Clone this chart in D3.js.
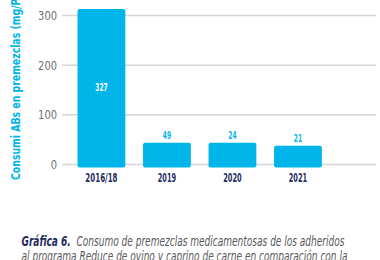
<!DOCTYPE html>
<html>
<head>
<meta charset="utf-8">
<script src="https://cdn.jsdelivr.net/npm/d3@7"></script>
<style>
  body { margin: 0; background: #fff; }
  svg { display: block; }
  text { font-family: "Liberation Sans Narrow", "DejaVu Sans Condensed", "DejaVu Sans", sans-serif; }
</style>
</head>
<body>
<div id="chart"></div>
<script>
// categories and values (bar heights as drawn, labels as printed)
const years = ["2016/18", "2019", "2020", "2021"];
const barValues = [313, 44, 44, 38];
const valueLabels = ["327", "49", "24", "21"];
const yTicks = [0, 100, 200, 300];

const width = 380, height = 260;
const cyan = "#00b5e9";
const navy = "#1d2c5e";

const svg = d3.select("#chart").append("svg")
    .attr("width", width)
    .attr("height", height);

// scales
const x = d3.scaleBand()
    .domain(years)
    .range([68.7, 330.7])
    .paddingInner(0.27)
    .paddingOuter(0.135);

const y = d3.scaleLinear()
    .domain([0, 300])
    .range([164.5, 15.5]);

// gridlines
svg.append("g")
    .selectAll("line")
    .data(yTicks)
    .enter().append("line")
    .attr("x1", 62)
    .attr("x2", 376)
    .attr("y1", d => y(d))
    .attr("y2", d => y(d))
    .style("stroke", "#d6d6d6")
    .style("stroke-width", 1.5);

// y tick labels
svg.append("g")
    .selectAll("text")
    .data(yTicks)
    .enter().append("text")
    .attr("x", 57)
    .attr("y", d => y(d))
    .attr("dy", "0.35em")
    .attr("text-anchor", "end")
    .attr("textLength", d => String(d).length * 6.3)
    .attr("lengthAdjust", "spacingAndGlyphs")
    .style("font-size", "13px")
    .style("fill", "#6d6e71")
    .text(d => d);

// bars (they sit a little below the zero line)
svg.append("g")
    .selectAll("rect")
    .data(barValues)
    .enter().append("rect")
    .attr("x", (d, i) => x(years[i]))
    .attr("y", d => y(d))
    .attr("width", x.bandwidth())
    .attr("height", d => y(0) - y(d) + 3)
    .attr("rx", 2)
    .style("fill", cyan);

// value labels: first one inside the bar, the rest above
svg.append("g")
    .selectAll("text")
    .data(valueLabels)
    .enter().append("text")
    .attr("x", (d, i) => x(years[i]) + x.bandwidth() / 2)
    .attr("y", (d, i) => i == 0 ? (y(barValues[i]) + y(0)) / 2 + 4 : y(barValues[i]) - 3.5)
    .attr("text-anchor", "middle")
    .attr("textLength", d => d.length * 4.1)
    .attr("lengthAdjust", "spacingAndGlyphs")
    .style("font-size", "10px")
    .style("font-weight", "bold")
    .style("fill", (d, i) => i == 0 ? "#fff" : cyan)
    .text(d => d);

// x labels
svg.append("g")
    .selectAll("text")
    .data(years)
    .enter().append("text")
    .attr("x", d => x(d) + x.bandwidth() / 2)
    .attr("y", 181.5)
    .attr("text-anchor", "middle")
    .attr("textLength", d => d.length * 4.6)
    .attr("lengthAdjust", "spacingAndGlyphs")
    .style("font-size", "11.5px")
    .style("font-weight", "bold")
    .style("fill", navy)
    .text(d => d);

// y axis title (runs past the top edge, as in the source)
svg.append("text")
    .attr("transform", "translate(19.5,180) rotate(-90)")
    .attr("text-anchor", "start")
    .attr("textLength", 200)
    .attr("lengthAdjust", "spacingAndGlyphs")
    .style("font-size", "12.5px")
    .style("font-weight", "bold")
    .style("fill", cyan)
    .text("Consumi ABs en premezclas (mg/PCU)");

// caption
const caption = svg.append("g").style("font-size", "13.5px").style("font-style", "italic");
const line1 = caption.append("text").attr("x", 21.5).attr("y", 245.7)
    .attr("textLength", 323)
    .attr("lengthAdjust", "spacingAndGlyphs");
line1.append("tspan").style("font-weight", "bold").style("fill", navy).text("Gráfica 6.");
line1.append("tspan").style("fill", "#58595b").text("\u00a0 Consumo de premezclas medicamentosas de los adheridos");
caption.append("text").attr("x", 21.5).attr("y", 261)
    .attr("textLength", 326)
    .attr("lengthAdjust", "spacingAndGlyphs")
    .style("fill", "#58595b")
    .text("al programa Reduce de ovino y caprino de carne en comparación con la");
</script>
</body>
</html>
